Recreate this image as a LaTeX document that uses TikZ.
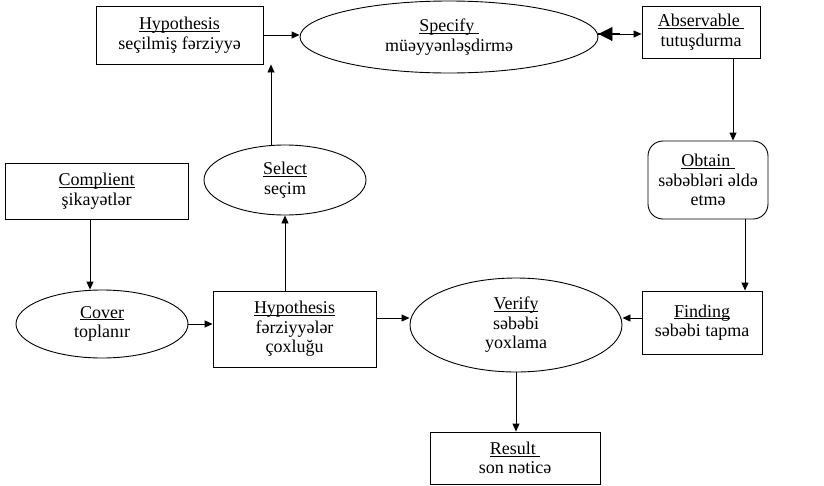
\documentclass[tikz,border=0pt]{standalone}
\usepackage{fontspec}
\setmainfont{Liberation Serif}
\usetikzlibrary{shapes.geometric,arrows.meta}
\newcommand{\ulx}[1]{\underline{\raisebox{0pt}[\height][0pt]{#1}}}
\begin{document}
\begin{tikzpicture}[x=1pt,y=-1pt,
  every node/.style={font=\fontsize{18}{19.5}\selectfont, align=center, inner sep=0pt},
  boxnode/.style={draw, line width=0.9pt},
  ellnode/.style={draw, ellipse, line width=0.9pt},
  arr/.style={line width=0.9pt, -{Triangle[length=8pt,width=7pt]}}]
\useasboundingbox (0,0) rectangle (824,485);
% nodes
\node[boxnode, minimum width=167pt, minimum height=58pt] (hypA) at (179.5,35) {\ulx{Hypothesis}\\seçilmiş fərziyyə};
\node[ellnode, minimum width=298pt, minimum height=72pt] (spec) at (449,37) {\ulx{Specify\ }\\müəyyənləşdirmə};
\node[boxnode, minimum width=118pt, minimum height=52pt] (obs) at (701,32) {\ulx{Abservable\ }\\tutuşdurma};
\node[boxnode, rounded corners=15pt, minimum width=120pt, minimum height=78pt] (obt) at (708,180) {\ulx{Obtain\ }\\səbəbləri əldə\\etmə};
\node[ellnode, minimum width=162pt, minimum height=70pt] (sel) at (285,180) {\ulx{Select}\\seçim};
\node[boxnode, minimum width=183pt, minimum height=56pt] (comp) at (96.5,191) {\ulx{Complient}\\şikayətlər};
\node[ellnode, minimum width=172pt, minimum height=68pt] (cov) at (102,324) {\ulx{Cover}\\toplanır};
\node[boxnode, minimum width=163pt, minimum height=76pt] (hypB) at (294.5,329) {\ulx{Hypothesis}\\fərziyyələr\\çoxluğu};
\node[ellnode, minimum width=212pt, minimum height=94pt] (ver) at (516,325) {\ulx{Verify}\\səbəbi\\yoxlama};
\node[boxnode, minimum width=170pt, minimum height=52pt] (res) at (515,458) {\ulx{Result\ }\\son nəticə};
\node[boxnode, minimum width=120pt, minimum height=63pt] (fin) at (702,322.5) {\ulx{Finding}\\səbəbi tapma};
% helper coordinates
\coordinate (vy) at (0,318);
\coordinate (ox) at (733,0);
\coordinate (fx) at (745,0);
\coordinate (sx) at (271,0);
\coordinate (cx) at (90,0);
\coordinate (sy) at (0,34);
% connectors
\draw[arr] (hypA.east) -- (hypA.east -| spec.west);
\draw[line width=0.9pt, {Triangle[length=14pt,width=14pt]}-{Triangle[length=8pt,width=7pt]}] (spec.east |- sy) -- (obs.west |- sy);
\draw[line width=2.2pt] (spec.east |- sy) -- ++(22,0);
\draw[arr] (sel.north -| sx) -- (hypA.south -| sx);
\draw[arr] (hypB.north -| sel.south) -- (sel.south);
\draw[arr] (comp.south -| cx) -- (cov.north -| cx);
\draw[arr] (cov.east) -- (cov.east -| hypB.west);
\draw[arr] (hypB.east |- vy) -- (ver.west |- vy);
\draw[arr] (fin.west |- vy) -- (ver.east |- vy);
\draw[arr] (obs.south -| ox) -- (obt.north -| ox);
\draw[arr] (obt.south -| fx) -- (fin.north -| fx);
\draw[arr] (ver.south) -- (ver.south |- res.north);
\end{tikzpicture}
\end{document}
